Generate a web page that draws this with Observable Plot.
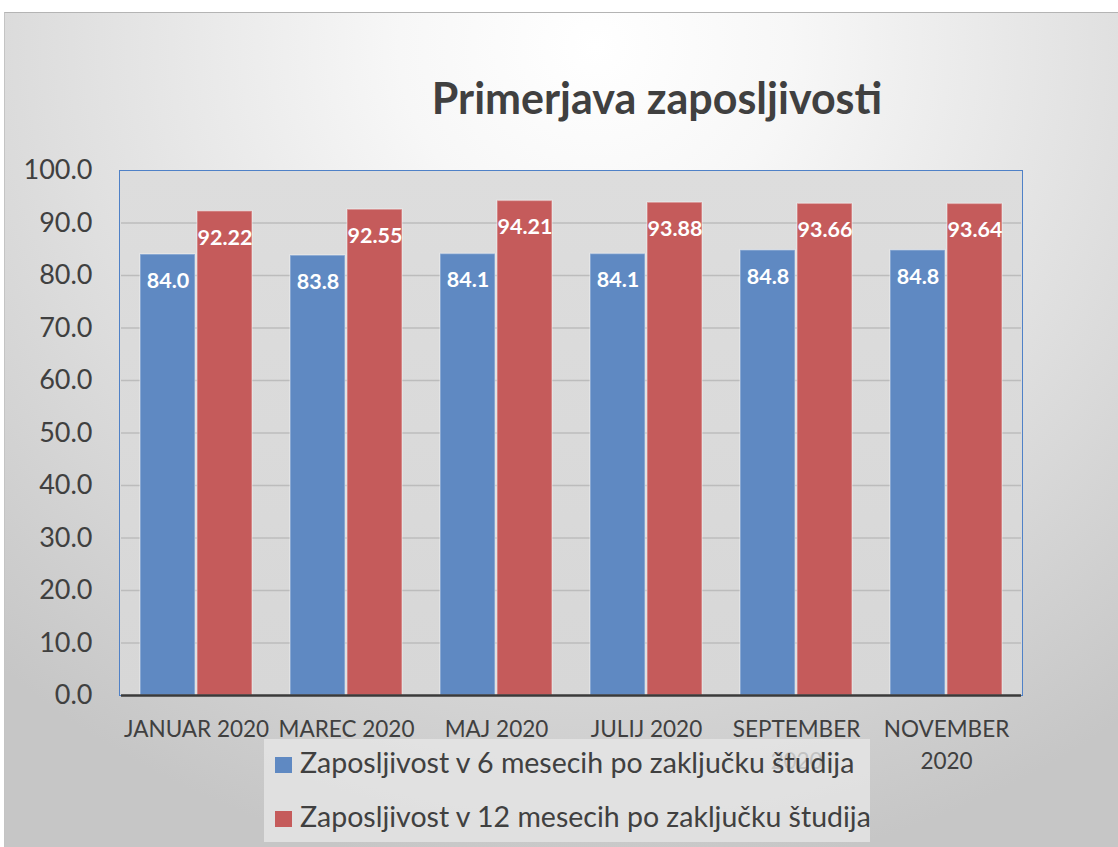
<!DOCTYPE html>
<html><head><meta charset="utf-8">
<script src="https://cdn.jsdelivr.net/npm/d3@7"></script>
<script src="https://cdn.jsdelivr.net/npm/@observablehq/plot@0.6"></script>
<style>
body{margin:0;background:#fff;font-family:Lato,sans-serif;}
#wrap{position:relative;width:1118px;height:847px;overflow:hidden;}
#bg{position:absolute;left:4px;top:12px;width:1114px;height:835px;border-top:1px solid #b4b4b4;border-left:1px solid #c4c4c4;
 background:radial-gradient(ellipse 80% 100% at 53% 4%, #ffffff 0%, #f7f7f7 22%, #dedede 62%, #c6c6c6 100%);}
#panel{position:absolute;left:119px;top:170px;width:904px;height:526px;box-sizing:border-box;border:1.5px solid #4f81c7;
 background:linear-gradient(#dddddd,#d7d7d7);}
#title{position:absolute;left:657px;top:76px;transform:translateX(-50%);white-space:nowrap;font:700 43px/43px Lato,sans-serif;color:#404040;}
#chart{position:absolute;left:0;top:0;}
#legend{position:absolute;left:264px;top:739px;width:606px;height:103px;background:rgba(231,231,231,0.78);}
.item{position:absolute;left:36px;font:400 28.5px/28.5px Lato,sans-serif;color:#404040;white-space:nowrap;}
.sw{position:absolute;left:11px;width:17px;height:16px;}
</style></head>
<body>
<div id="wrap">
 <div id="bg"></div>
 <div id="panel"></div>
 <div id="chart"></div>
 <div id="title"></div>
 <div id="legend"></div>
</div>
<script>
const title = "Primerjava zaposljivosti";
const categories = ["JANUAR 2020", "MAREC 2020", "MAJ 2020", "JULIJ 2020", "SEPTEMBER 2020", "NOVEMBER 2020"];
const tickLabels = ["JANUAR 2020", "MAREC 2020", "MAJ 2020", "JULIJ 2020", "SEPTEMBER\n2020", "NOVEMBER\n2020"];
const seriesNames = ["Zaposljivost v 6 mesecih po zaključku študija", "Zaposljivost v 12 mesecih po zaključku študija"];
const values6 = [84.0, 83.8, 84.1, 84.1, 84.8, 84.8];
const values12 = [92.22, 92.55, 94.21, 93.88, 93.66, 93.64];
const decimals = [1, 2];
const colors = ["#5f89c2", "#c55b5b"];
const yTicks = [0, 10, 20, 30, 40, 50, 60, 70, 80, 90, 100];

const rows = [];
categories.forEach((c, i) => {
  rows.push({cat: c, series: seriesNames[0], value: values6[i], si: 0});
  rows.push({cat: c, series: seriesNames[1], value: values12[i], si: 1});
});

document.getElementById("title").textContent = title;

const chart = Plot.plot({
  width: 1118,
  height: 847,
  marginLeft: 119,
  marginRight: 95,
  marginTop: 170,
  marginBottom: 152,
  style: {background: "transparent", fontFamily: "Lato, sans-serif", fontSize: "27px", color: "#404040"},
  fx: {domain: categories, padding: 0, axis: null},
  x: {domain: seriesNames, paddingInner: 0.035, paddingOuter: 0.33, axis: null},
  y: {domain: [0, 100], ticks: yTicks, tickFormat: d3.format(".1f"), tickSize: 0, tickPadding: 29, label: null},
  color: {domain: seriesNames, range: colors},
  marks: [
    Plot.ruleY(yTicks.slice(1, -1), {stroke: "#bcbcbc", strokeWidth: 1.5}),
    Plot.barY(rows, {fx: "cat", x: "series", y: "value", fill: "series", stroke: "#ffffff", strokeOpacity: 0.35, strokeWidth: 1.5}),
    Plot.text(rows, {fx: "cat", x: "series", y: "value", text: d => d.value.toFixed(decimals[d.si]),
      lineAnchor: "top", dy: 18, fill: "white", fontWeight: "bold", fontSize: 21.5}),
    Plot.ruleY([0], {stroke: "#3a3a3a", strokeWidth: 2.5}),
    Plot.text(categories, {fx: d => d, text: (d, i) => tickLabels[i], frameAnchor: "bottom",
      lineAnchor: "top", dy: 19, fontSize: 22.5, lineHeight: 1.42, fill: "#404040"})
  ]
});
document.getElementById("chart").appendChild(chart);

const legend = document.getElementById("legend");
seriesNames.forEach((s, i) => {
  const sw = document.createElement("div");
  sw.className = "sw";
  sw.style.top = (18 + i * 53.5) + "px";
  sw.style.background = colors[i];
  legend.appendChild(sw);
  const t = document.createElement("div");
  t.className = "item";
  t.style.top = (9 + i * 54) + "px";
  t.textContent = s;
  legend.appendChild(t);
});
</script>
</body></html>
